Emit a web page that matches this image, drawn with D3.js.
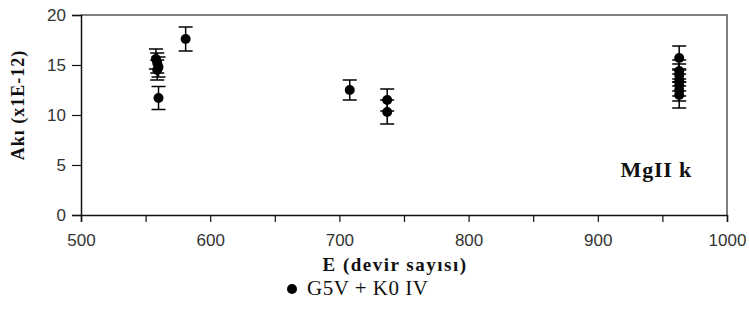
<!DOCTYPE html>
<html>
<head>
<meta charset="utf-8">
<script src="https://cdn.jsdelivr.net/npm/d3@7"></script>
<style>
  body { margin: 0; background: #fff; }
  .tick-label { font-family: "Liberation Sans", Arial, sans-serif; font-size: 17px; fill: #333; }
  .serif { font-family: "Liberation Serif", "Times New Roman", serif; fill: #111; }
</style>
</head>
<body>
<svg id="chart" width="749" height="331"></svg>
<script>
// cycle number (E), flux (x1E-12) and its error
const epochs = [558, 559, 560, 559, 560, 581, 708, 737, 737, 963, 963, 963, 963, 963, 963, 963]
const fluxes = [15.6, 15.2, 14.8, 14.5, 11.7, 17.6, 12.5, 11.5, 10.3, 15.7, 14.4, 14.0, 13.5, 13.0, 12.5, 12.0]
const errors = [1.0, 1.0, 1.0, 1.0, 1.15, 1.2, 1.0, 1.1, 1.2, 1.2, 1.1, 1.1, 1.1, 1.1, 1.1, 1.3]

const xTicks = [500, 600, 700, 800, 900, 1000]
const xMinorTicks = [550, 650, 750, 850, 950]
const yTicks = [0, 5, 10, 15, 20]

const xTitle = "E (devir sayısı)"
const yTitle = "Akı (x1E-12)"
const seriesName = "G5V + K0 IV"
const lineName = "MgII k"

const svg = d3.select("#chart")

const xScale = d3.scaleLinear().domain([500, 1000]).range([81, 727])
const yScale = d3.scaleLinear().domain([0, 20]).range([215, 15])

// frame (top and right)
svg.append("path")
  .attr("d", `M${xScale(500)},${yScale(20)}H${xScale(1000)}V${yScale(0)}`)
  .attr("fill", "none")
  .attr("stroke", "#555")
  .attr("stroke-width", 1.5)

// y axis
const yAxis = svg.append("g")
  .attr("transform", `translate(${xScale(500)},0)`)
  .call(d3.axisLeft(yScale).tickValues(yTicks).tickSize(9).tickPadding(6))
yAxis.select(".domain").attr("stroke", "#111").attr("stroke-width", 1.5)
yAxis.selectAll(".tick line").attr("stroke", "#111").attr("stroke-width", 1.2)
yAxis.selectAll("text").attr("class", "tick-label").attr("dy", "0.34em")

// x axis
const xAxis = svg.append("g")
  .attr("transform", `translate(0,${yScale(0)})`)
  .call(d3.axisBottom(xScale).tickValues(xTicks.concat(xMinorTicks)).tickSize(7).tickPadding(12)
    .tickFormat(d => xTicks.includes(d) ? d : ""))
xAxis.select(".domain").attr("stroke", "#111").attr("stroke-width", 1.5)
xAxis.selectAll(".tick line").attr("stroke", "#111").attr("stroke-width", 1.2)
xAxis.selectAll("text").attr("class", "tick-label")

// error bars
const rows = epochs.map((e, i) => ({ e: e, f: fluxes[i], err: errors[i] }))
const bars = svg.append("g").attr("stroke", "#000").attr("stroke-width", 1.5)
rows.forEach(d => {
    const cx = xScale(d.e)
    bars.append("line")
      .attr("x1", cx).attr("x2", cx)
      .attr("y1", yScale(d.f + d.err)).attr("y2", yScale(d.f - d.err))
    bars.append("line")
      .attr("x1", cx - 7).attr("x2", cx + 7)
      .attr("y1", yScale(d.f + d.err)).attr("y2", yScale(d.f + d.err))
    bars.append("line")
      .attr("x1", cx - 7).attr("x2", cx + 7)
      .attr("y1", yScale(d.f - d.err)).attr("y2", yScale(d.f - d.err))
})

svg.append("g").selectAll("circle")
  .data(rows)
  .enter().append("circle")
  .attr("cx", d => xScale(d.e))
  .attr("cy", d => yScale(d.f))
  .attr("r", 5)
  .attr("fill", "#000")

// labels
svg.append("text")
  .attr("class", "serif")
  .attr("x", 692)
  .attr("y", 177)
  .attr("text-anchor", "end")
  .attr("font-size", "22px")
  .attr("font-weight", "bold")
  .attr("letter-spacing", "0.8px")
  .text(lineName)

svg.append("text")
  .attr("class", "serif")
  .attr("transform", "translate(24,105) rotate(-90)")
  .attr("text-anchor", "middle")
  .attr("font-size", "18px")
  .attr("font-weight", "bold")
  .attr("letter-spacing", "1px")
  .text(yTitle)

svg.append("text")
  .attr("class", "serif")
  .attr("x", 395)
  .attr("y", 271)
  .attr("text-anchor", "middle")
  .attr("font-size", "19px")
  .attr("font-weight", "bold")
  .attr("letter-spacing", "1.5px")
  .text(xTitle)

// legend
svg.append("circle")
  .attr("cx", 292)
  .attr("cy", 289)
  .attr("r", 5)
  .attr("fill", "#000")

svg.append("text")
  .attr("class", "serif")
  .attr("x", 307)
  .attr("y", 295)
  .attr("font-size", "21px")
  .attr("letter-spacing", "0.5px")
  .text(seriesName)
</script>
</body>
</html>
